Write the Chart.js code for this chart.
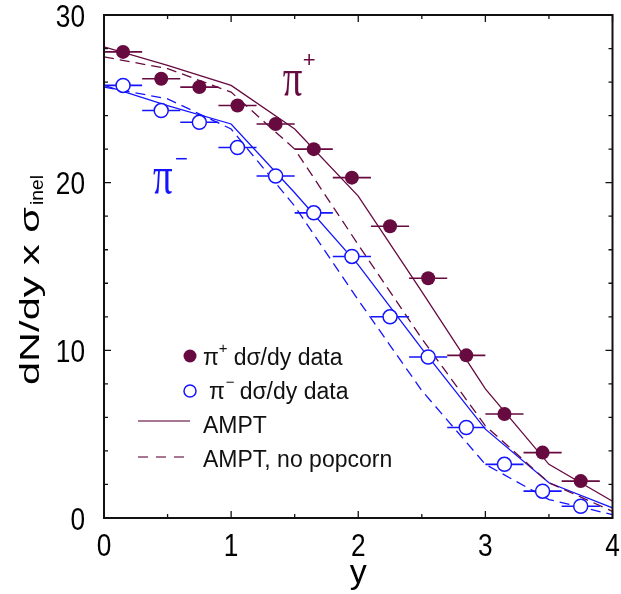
<!DOCTYPE html>
<html>
<head>
<meta charset="utf-8">
<script src="https://cdn.jsdelivr.net/npm/chart.js@4.4.0/dist/chart.umd.min.js"></script>
<style>
  html, body { margin: 0; padding: 0; background: #fff; }
  #wrap { width: 621px; height: 594px; }
</style>
</head>
<body>
<div id="wrap"><canvas id="chart" width="621" height="594"></canvas></div>
<script>
// measured points (bin centres in rapidity, half width 0.15)
const rapidity = [0.15, 0.45, 0.75, 1.05, 1.35, 1.65, 1.95, 2.25, 2.55, 2.85, 3.15, 3.45, 3.75];
const piPlusData = [27.8, 26.2, 25.7, 24.6, 23.5, 22.0, 20.3, 17.4, 14.3, 9.7, 6.2, 3.9, 2.2];
const piMinusData = [25.8, 24.3, 23.6, 22.1, 20.4, 18.2, 15.6, 12.0, 9.6, 5.4, 3.2, 1.6, 0.7];
const binHalfWidth = 0.15;

// AMPT curves
const amptRapidity = [0, 0.5, 1, 1.5, 2, 2.5, 3, 3.5, 4];
const amptPiPlus = [28.1, 27.0, 25.8, 23.2, 19.2, 13.5, 7.7, 3.2, 1.0];
const amptPiPlusNoPop = [27.5, 26.8, 25.4, 22.0, 16.3, 10.7, 5.5, 2.1, 0.4];
const amptPiMinus = [25.8, 24.6, 23.5, 19.4, 15.1, 10.1, 5.3, 2.1, 0.6];
const amptPiMinusNoPop = [25.7, 25.0, 23.2, 18.6, 13.0, 7.6, 3.2, 1.1, 0.2];

const xTicks = [0, 1, 2, 3, 4];
const yTicks = [0, 10, 20, 30];

const MAROON = '#660a40';
const BLUE = '#1414ff';
const SANS = "'Liberation Sans', Arial, sans-serif";
const SERIF = "'Liberation Serif', 'Times New Roman', serif";

function toPoints(xs, ys) {
    return xs.map((x, i) => ({ x: x, y: ys[i] }));
}

function errorBars(xs, ys) {
    const pts = [];
    xs.forEach((x, i) => {
        pts.push({ x: x - binHalfWidth, y: ys[i] });
        pts.push({ x: x + binHalfWidth, y: ys[i] });
        pts.push({ x: x, y: null });
    });
    return pts;
}

function lineSet(data, color, dash) {
    return {
        data: data,
        showLine: true,
        borderColor: color,
        borderWidth: 1.3,
        borderDash: dash || [],
        pointRadius: 0,
        fill: false,
        spanGaps: false
    };
}

// text with a super/subscript part
function drawScript(ctx, parts, x, y) {
    let cx = x;
    parts.forEach(p => {
        ctx.font = p.font;
        ctx.fillText(p.text, cx, y + (p.dy || 0));
        cx += ctx.measureText(p.text).width + (p.gap || 0);
    });
}

// narrow-looking tick digits: squeeze the regular face horizontally
function squeezedText(ctx, text, x, y, align) {
    ctx.save();
    ctx.translate(x, y);
    ctx.scale(0.82, 1);
    ctx.textAlign = align;
    ctx.fillText(text, 0, 0);
    ctx.restore();
}

const framePlugin = {
    id: 'frame',
    afterDraw(chart) {
        const { ctx, chartArea: a, scales } = chart;
        const xs = scales.x, ys = scales.y;
        ctx.save();

        // inward ticks on all four sides
        ctx.strokeStyle = '#111';
        ctx.lineWidth = 1.3;
        ctx.beginPath();
        for (let v = 0; v <= 4.001; v += 0.5) {
            const px = xs.getPixelForValue(v);
            const len = Math.abs(v - Math.round(v)) < 1e-6 ? 7 : 4;
            ctx.moveTo(px, a.bottom); ctx.lineTo(px, a.bottom - len);
            ctx.moveTo(px, a.top); ctx.lineTo(px, a.top + len);
        }
        for (let v = 0; v <= 30.001; v += 2) {
            const py = ys.getPixelForValue(v);
            const len = v % 10 === 0 ? 7 : 4;
            ctx.moveTo(a.left, py); ctx.lineTo(a.left + len, py);
            ctx.moveTo(a.right, py); ctx.lineTo(a.right - len, py);
        }
        ctx.stroke();

        ctx.lineWidth = 2;
        ctx.strokeStyle = '#111';
        ctx.strokeRect(a.left, a.top, a.right - a.left, a.bottom - a.top);

        // tick labels
        ctx.fillStyle = '#000';
        ctx.textBaseline = 'alphabetic';
        ctx.font = '32px ' + SANS;
        xTicks.forEach(v => squeezedText(ctx, String(v), xs.getPixelForValue(v), a.bottom + 38, 'center'));
        yTicks.forEach(v => squeezedText(ctx, String(v), a.left - 19, ys.getPixelForValue(v) + 11.5, 'right'));

        // y axis title: dN/dy x σ_inel (rotated)
        ctx.textAlign = 'left';
        ctx.translate(39, 385);
        ctx.rotate(-Math.PI / 2);
        ctx.font = '27px ' + SANS;
        const mainText = 'dN/dy x \u03c3';
        const mw = ctx.measureText(mainText).width;
        ctx.save();
        ctx.scale(178 / mw, 1);
        ctx.fillText(mainText, 0, 0);
        ctx.restore();
        ctx.font = '18px ' + SANS;
        const sw = ctx.measureText('inel').width;
        ctx.save();
        ctx.translate(180, 4);
        ctx.scale(30 / sw, 1);
        ctx.fillText('inel', 0, 0);
        ctx.restore();
        ctx.setTransform(1, 0, 0, 1, 0, 0);

        // π+ / π- labels
        const labels = [
            { x: 1.407, y: 25.23, color: MAROON, sup: '+', supDx: 20, supDy: -28 },
            { x: 0.385, y: 19.38, color: BLUE, sup: '\u2212', supDx: 22, supDy: -27 }
        ];
        labels.forEach(l => {
            const px = xs.getPixelForValue(l.x), py = ys.getPixelForValue(l.y);
            ctx.fillStyle = l.color;
            ctx.save();
            ctx.translate(px, py);
            ctx.scale(1.05, 1.4);
            ctx.font = '37px ' + SERIF;
            ctx.fillText('\u03c0', 0, 0);
            ctx.restore();
            ctx.font = '22px ' + SANS;
            ctx.fillText(l.sup, px + l.supDx, py + l.supDy);
        });

        // legend
        const lx = 190;
        ctx.fillStyle = MAROON;
        ctx.beginPath(); ctx.arc(lx, 356, 6.5, 0, Math.PI * 2); ctx.fill();
        ctx.strokeStyle = BLUE; ctx.lineWidth = 1.5;
        ctx.beginPath(); ctx.arc(lx, 391, 6, 0, Math.PI * 2); ctx.stroke();

        ctx.strokeStyle = '#8a4a6e'; ctx.lineWidth = 1.5;
        ctx.beginPath(); ctx.moveTo(138, 421); ctx.lineTo(190, 421); ctx.stroke();
        ctx.setLineDash([10, 8]);
        ctx.beginPath(); ctx.moveTo(138, 457); ctx.lineTo(186, 457); ctx.stroke();
        ctx.setLineDash([]);

        ctx.fillStyle = '#111';
        drawScript(ctx, [
            { text: '\u03c0', font: '23px ' + SANS },
            { text: '+', font: '15px ' + SANS, dy: -12, gap: 6 },
            { text: 'd\u03c3/dy data', font: '23px ' + SANS }
        ], 203, 365);
        drawScript(ctx, [
            { text: '\u03c0', font: '23px ' + SANS, gap: 1 },
            { text: '\u2212', font: '15px ' + SANS, dy: -12, gap: 5 },
            { text: 'd\u03c3/dy data', font: '23px ' + SANS }
        ], 209, 399);
        ctx.font = '23px ' + SANS;
        ctx.fillText('AMPT', 203, 433);
        ctx.fillText('AMPT, no popcorn', 203, 467);

        ctx.restore();
    }
};

new Chart(document.getElementById('chart'), {
    type: 'scatter',
    data: {
        datasets: [
            {
                data: toPoints(rapidity, piPlusData),
                pointRadius: 7,
                pointBackgroundColor: MAROON,
                pointBorderColor: MAROON,
                pointBorderWidth: 0,
                showLine: false
            },
            {
                data: toPoints(rapidity, piMinusData),
                pointRadius: 7,
                pointBackgroundColor: '#ffffff',
                pointBorderColor: BLUE,
                pointBorderWidth: 1.5,
                showLine: false
            },
            Object.assign(lineSet(errorBars(rapidity, piPlusData), MAROON), { borderWidth: 1.6 }),
            Object.assign(lineSet(errorBars(rapidity, piMinusData), BLUE), { borderWidth: 1.6 }),
            lineSet(toPoints(amptRapidity, amptPiPlus), MAROON),
            lineSet(toPoints(amptRapidity, amptPiPlusNoPop), MAROON, [10, 6]),
            lineSet(toPoints(amptRapidity, amptPiMinus), BLUE),
            lineSet(toPoints(amptRapidity, amptPiMinusNoPop), BLUE, [10, 6])
        ]
    },
    options: {
        responsive: false,
        animation: false,
        layout: { padding: { top: 15, right: 8, left: 0, bottom: 0 } },
        plugins: {
            legend: { display: false },
            tooltip: { enabled: false }
        },
        scales: {
            x: {
                type: 'linear',
                min: 0,
                max: 4,
                grid: { display: false, drawTicks: false },
                border: { display: false },
                ticks: { display: false, stepSize: 1 },
                title: {
                    display: true,
                    text: 'y',
                    color: '#000',
                    font: { family: SANS, size: 34 },
                    padding: 0
                },
                afterFit: s => { s.height = 76; s.paddingLeft = 0; s.paddingRight = 0; }
            },
            y: {
                min: 0,
                max: 30,
                grid: { display: false, drawTicks: false },
                border: { display: false },
                ticks: { display: false, stepSize: 10 },
                afterFit: s => { s.width = 104; s.paddingTop = 0; s.paddingBottom = 0; }
            }
        }
    },
    plugins: [framePlugin]
});
</script>
</body>
</html>
